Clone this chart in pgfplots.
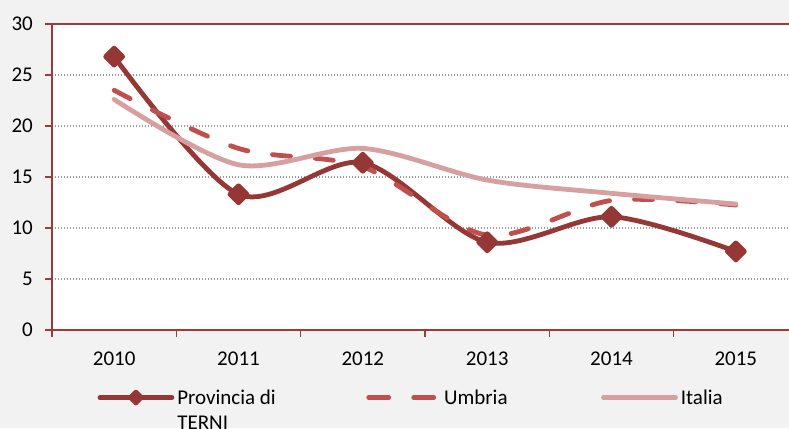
\documentclass[border=0pt]{standalone}
\usepackage{fontspec}
\setmainfont{Carlito}
\usepackage{pgfplots}
\pgfplotsset{compat=1.18}
\definecolor{bg}{HTML}{F2F2F2}
\definecolor{terni}{HTML}{953735}
\definecolor{umbria}{HTML}{C0504D}
\definecolor{italia}{HTML}{D6A0A0}
\definecolor{axred}{HTML}{A03A3A}
\pgfplotsset{
  terni legend/.style={legend image code/.code={\draw[##1, mark repeat=2, mark phase=2, mark size=3.8pt] plot coordinates {(0pt,7pt)(36pt,7pt)(72pt,7pt)};}},
  umbria legend/.style={legend image code/.code={\draw[##1, dash pattern=on 20pt off 25pt] (2pt,7pt) -- (72pt,7pt);}},
  italia legend/.style={legend image code/.code={\draw[##1] (0pt,7pt) -- (72pt,7pt);}},
}
\begin{document}
\fontsize{21pt}{25pt}\selectfont
\begin{tikzpicture}[x=1pt,y=1pt]
\fill[bg] (0,0) rectangle (789,428);
\useasboundingbox (0,0) rectangle (789,428);
\begin{axis}[
  at={(52pt,98pt)}, anchor=south west,
  scale only axis, width=746pt, height=306pt,
  xmin=0, xmax=6, ymin=0, ymax=30,
  axis background/.style={fill=white},
  xtick={0.5,1.5,2.5,3.5,4.5,5.5},
  xticklabels={2010,2011,2012,2013,2014,2015},
  minor xtick={0,1,2,3,4,5,6},
  major x tick style={draw=none},
  ytick={0,5,10,15,20,25,30},
  ymajorgrids,
  grid style={gray!80, line width=1.1pt, dash pattern=on 1.1pt off 1.9pt},
  axis line style={axred, line width=1.5pt},
  tick style={axred, line width=1.3pt},
  tick align=outside, tick pos=left,
  major tick length=7pt, minor tick length=7pt,
  /pgf/number format/assume math mode=true,
  yticklabel style={xshift=-5pt},
  xticklabel style={yshift=-8pt},
  legend columns=3,
  legend style={draw=none, fill=none, inner sep=0pt, outer sep=0pt,
    at={(0.061,-0.1895)}, anchor=north west,
    cells={anchor=base west, inner sep=0pt},
    column sep=0pt,
    /tikz/every odd column/.append style={column sep=1pt}},
]
\addplot[terni, line width=4.8pt, smooth, line cap=round, line join=round,
  mark=square*, mark size=6pt, mark options={rotate=45, solid, fill=terni},
  terni legend]
  coordinates {(0.5,26.8) (1.5,13.3) (2.5,16.4) (3.5,8.6) (4.5,11.1) (5.5,7.7)};
\addlegendentry{\parbox[t]{187pt}{Provincia di\\TERNI}}
\addplot[umbria, line width=4.8pt, smooth, line cap=round, line join=round,
  dash pattern=on 18pt off 25pt, umbria legend]
  coordinates {(0.5,23.5) (1.5,17.8) (2.5,16.0) (3.5,9.3) (4.5,12.7) (5.5,12.25)};
\addlegendentry{\parbox[t]{155pt}{Umbria}}
\addplot[italia, line width=4.8pt, smooth, line cap=round, line join=round,
  italia legend]
  coordinates {(0.5,22.6) (1.5,16.2) (2.5,17.8) (3.5,14.7) (4.5,13.4) (5.5,12.35)};
\addlegendentry{\parbox[t]{60pt}{Italia}}
\end{axis}
\end{tikzpicture}
\end{document}
